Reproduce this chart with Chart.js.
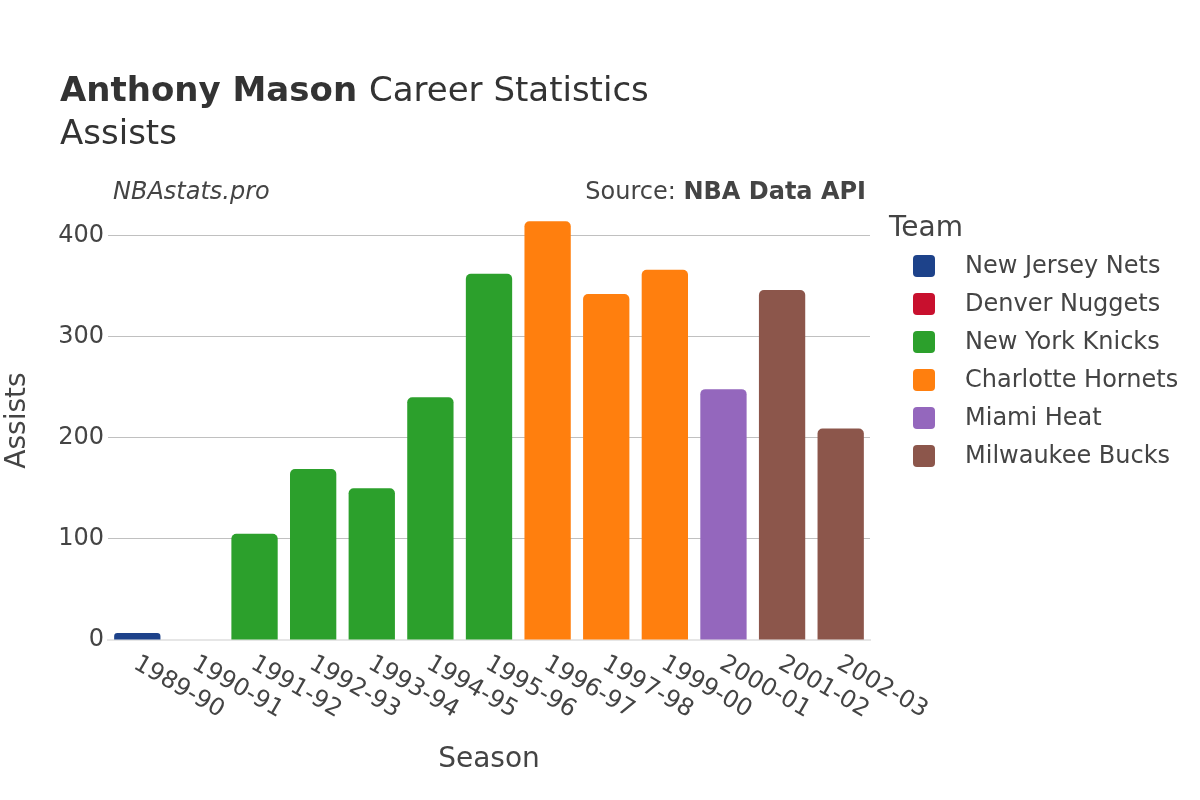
<!DOCTYPE html>
<html>
<head>
<meta charset="utf-8">
<script src="https://cdn.jsdelivr.net/npm/chart.js@4"></script>
<style>
  body { margin: 0; background: #fff; }
  #wrap { width: 1200px; height: 800px; }
</style>
</head>
<body>
<div id="wrap"><canvas id="chart" width="1200" height="800"></canvas></div>
<script>
// seasons on the x axis
var seasons = ['1989-90', '1990-91', '1991-92', '1992-93', '1993-94', '1994-95', '1995-96',
               '1996-97', '1997-98', '1999-00', '2000-01', '2001-02', '2002-03'];

// assists per season, split by team (null where he was not on that team)
var nets    = [7, null, null, null, null, null, null, null, null, null, null, null, null];
var nuggets = [null, 0, null, null, null, null, null, null, null, null, null, null, null];
var knicks  = [null, null, 105, 169, 150, 240, 362, null, null, null, null, null, null];
var hornets = [null, null, null, null, null, null, null, 414, 342, 366, null, null, null];
var heat    = [null, null, null, null, null, null, null, null, null, null, 248, null, null];
var bucks   = [null, null, null, null, null, null, null, null, null, null, null, 346, 209];

var teams  = ['New Jersey Nets', 'Denver Nuggets', 'New York Knicks', 'Charlotte Hornets', 'Miami Heat', 'Milwaukee Bucks'];
var colors = ['#1d428a', '#c8102e', '#2ca02c', '#ff7f0e', '#9467bd', '#8c564b'];
var series = [nets, nuggets, knicks, hornets, heat, bucks];

var yTicks = [0, 100, 200, 300, 400];

var FONT = '"DejaVu Sans", sans-serif';

function roundRect(ctx, x, y, w, h, r) {
	ctx.beginPath();
	ctx.moveTo(x + r, y);
	ctx.arcTo(x + w, y, x + w, y + h, r);
	ctx.arcTo(x + w, y + h, x, y + h, r);
	ctx.arcTo(x, y + h, x, y, r);
	ctx.arcTo(x, y, x + w, y, r);
	ctx.closePath();
}

// titles, x tick labels, axis titles and legend drawn by hand
var decor = {
	id: 'decor',
	afterDraw: function(chart) {
		var ctx = chart.ctx;
		var xs = chart.scales.x;
		ctx.save();

		// title
		ctx.textAlign = 'left';
		ctx.textBaseline = 'alphabetic';
		ctx.fillStyle = '#333';
		ctx.font = 'bold 34px ' + FONT;
		var t1 = 'Anthony Mason';
		ctx.fillText(t1, 60, 101);
		var w1 = ctx.measureText(t1 + ' ').width;
		ctx.font = '34px ' + FONT;
		ctx.fillText('Career Statistics', 60 + w1, 101);
		ctx.fillText('Assists', 60, 144);

		// watermark and source
		ctx.fillStyle = '#444';
		ctx.font = 'italic 24px ' + FONT;
		ctx.fillText('NBAstats.pro', 113, 199);
		ctx.textAlign = 'right';
		ctx.font = 'bold 24px ' + FONT;
		var src = 'NBA Data API';
		ctx.fillText(src, 866, 199);
		var ws = ctx.measureText(src).width;
		ctx.font = '24px ' + FONT;
		ctx.fillText('Source: ', 866 - ws, 199);

		// rotated season labels
		ctx.font = '24px ' + FONT;
		ctx.fillStyle = '#444';
		ctx.textAlign = 'left';
		ctx.textBaseline = 'middle';
		seasons.forEach(function(s, i) {
			var x = xs.getPixelForValue(i);
			ctx.save();
			ctx.translate(x - 2, 662);
			ctx.rotate(Math.PI / 6);
			ctx.fillText(s, 0, 0);
			ctx.restore();
		});

		// axis titles
		ctx.font = '28px ' + FONT;
		ctx.textAlign = 'center';
		ctx.textBaseline = 'middle';
		ctx.fillText('Season', (chart.chartArea.left + chart.chartArea.right) / 2, 760);
		ctx.save();
		ctx.translate(18, (chart.chartArea.top + chart.chartArea.bottom) / 2);
		ctx.rotate(-Math.PI / 2);
		ctx.fillText('Assists', 0, 0);
		ctx.restore();

		// legend
		ctx.textAlign = 'left';
		ctx.textBaseline = 'alphabetic';
		ctx.font = '28px ' + FONT;
		ctx.fillText('Team', 889, 236);
		ctx.font = '24px ' + FONT;
		ctx.textBaseline = 'middle';
		chart.data.datasets.forEach(function(ds, i) {
			var y = 266 + i * 38;
			ctx.fillStyle = ds.backgroundColor;
			roundRect(ctx, 913, y - 11, 22, 22, 4);
			ctx.fill();
			ctx.fillStyle = '#444';
			ctx.fillText(ds.label, 965, y + 1);
		});

		ctx.restore();
	}
};

var ctx = document.getElementById('chart').getContext('2d');
var chart = new Chart(ctx, {
	type: 'bar',
	data: {
		labels: seasons,
		datasets: series.map(function(d, i) {
			return {
				label: teams[i],
				data: d,
				backgroundColor: colors[i],
				borderRadius: { topLeft: 5, topRight: 5 },
				borderSkipped: 'start',
				barPercentage: 0.79,
				categoryPercentage: 1
			};
		})
	},
	options: {
		responsive: false,
		animation: false,
		layout: { padding: { left: 0, top: 201, right: 330, bottom: 0 } },
		plugins: {
			legend: { display: false },
			tooltip: { enabled: false }
		},
		scales: {
			x: {
				stacked: true,
				grid: { display: false, drawTicks: false },
				border: { display: true, color: '#e6e6e6', width: 2 },
				ticks: { display: false },
				afterFit: function(s) { s.height = 160; }
			},
			y: {
				stacked: true,
				min: 0,
				max: 434,
				afterBuildTicks: function(s) { s.ticks = yTicks.map(function(v) { return { value: v }; }); },
				grid: { color: '#c0c0c0', lineWidth: 1, drawTicks: false },
				border: { display: false },
				ticks: { padding: 4, color: '#444', font: { family: FONT, size: 24 } },
				afterFit: function(s) { s.width = 108; }
			}
		}
	},
	plugins: [decor]
});
</script>
</body>
</html>
